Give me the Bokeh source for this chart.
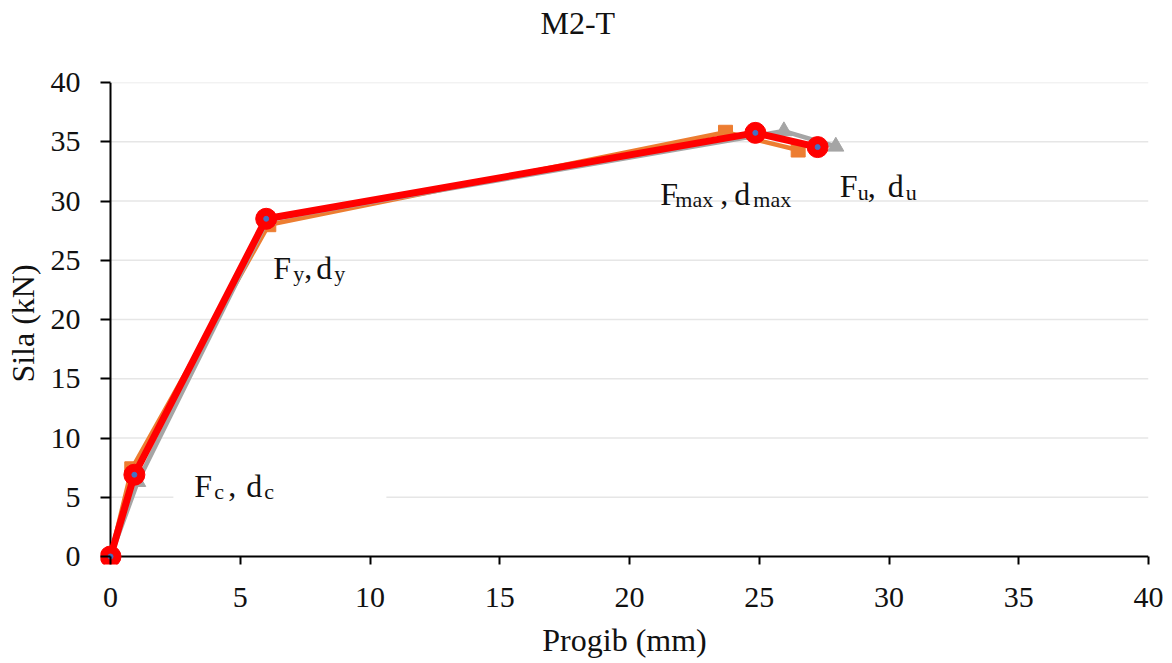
from bokeh.plotting import figure
from bokeh.models import Range1d, FixedTicker, ColumnDataSource, Title
from bokeh.core.properties import value
from bokeh.embed import file_html
from bokeh.resources import INLINE

# ---------------- data ----------------
title_text = "M2-T"
x_label = "Progib (mm)"
y_label = "Sila (kN)"

ticks = [0, 5, 10, 15, 20, 25, 30, 35, 40]

# series 1 (orange squares)
s1_x = [0, 0.82, 6.1, 23.7, 26.5]
s1_y = [0, 7.4, 28.0, 35.8, 34.3]
# series 2 (gray triangles)
s2_x = [0, 1.05, 6.05, 25.95, 27.95]
s2_y = [0, 6.3, 28.4, 35.9, 34.6]
# series 3 (red, with blue centre dots)
s3_x = [0, 0.92, 6.0, 24.85, 27.25]
s3_y = [0, 6.9, 28.5, 35.75, 34.55]

# point labels: index into red series, pieces (text, is_subscript)
label_points = [1, 2, 3, 4]
label_pieces = [
    [("F", 0), ("c", 1), (",", 0), ("d", 0), ("c", 1)],
    [("F", 0), ("y", 1), (",", 0), ("d", 0), ("y", 1)],
    [("F", 0), ("max", 1), (",", 0), ("d", 0), ("max", 1)],
    [("F", 0), ("u", 1), (",", 0), ("d", 0), ("u", 1)],
]
# pixel offsets of each piece from its point
label_dx = [
    [60, 80, 94, 112, 130],
    [7, 27, 38, 50, 68],
    [-95, -80, -35, -21, -2],
    [22, 40, 50, 70, 88],
]
label_dy = [11, 49, 61, 39]
SUB_SHIFT = 6

FONT = "Liberation Serif"
TXT = "#111111"

W, H = 1170, 661
# frame: data 0..40 spans x 110..1148 and y 556..82; a small pad below / left of 0
PAD_L, PAD_B = 10, 8
ML, MR, MT, MB = 110 - PAD_L, 22, 82, H - 556 - PAD_B
px_x = (W - 110 - MR) / 40.0
px_y = (556 - MT) / 40.0

p = figure(width=W, height=H, output_backend="svg", toolbar_location=None,
           x_range=Range1d(-PAD_L / px_x, 40), y_range=Range1d(-PAD_B / px_y, 40),
           min_border_left=ML, min_border_right=MR, min_border_top=MT,
           min_border_bottom=MB)
p.outline_line_color = None
p.background_fill_color = "white"
p.border_fill_color = "white"

# title (outermost) with an empty spacer between it and the plot area
p.title.text = title_text
p.title.align = "left"
p.title.offset = 440
p.title.standoff = 0
p.title.text_font = FONT
p.title.text_font_size = "32px"
p.title.text_font_style = "normal"
p.title.text_color = TXT
spacer = Title(text=" ", text_font=FONT, text_font_size="30px", standoff=7)
p.add_layout(spacer, "above")

# axes (ticks reach from the frame edge to the zero lines)
p.xgrid.visible = False
p.ygrid.visible = False
for ax in (p.xaxis[0], p.yaxis[0]):
    ax.ticker = FixedTicker(ticks=ticks)
    ax.minor_tick_line_color = None
    ax.major_tick_out = 0
    ax.axis_line_color = None
    ax.major_tick_line_color = "black"
    ax.major_tick_line_width = 2
    ax.major_label_text_font = FONT
    ax.major_label_text_font_size = "30px"
    ax.major_label_text_color = TXT
    ax.axis_label_text_font = FONT
    ax.axis_label_text_font_size = "32px"
    ax.axis_label_text_font_style = "normal"
    ax.axis_label_text_color = TXT

p.xaxis.axis_label = x_label
p.yaxis.axis_label = y_label
p.xaxis.major_tick_in = PAD_B
p.yaxis.major_tick_in = PAD_L
p.xaxis.major_label_standoff = 23
p.yaxis.major_label_standoff = 20
p.xaxis.axis_label_standoff = 12
p.yaxis.axis_label_standoff = 7

# horizontal gridlines (from the y axis to the right end)
n = len(ticks) - 1
p.segment(x0=[ticks[0]] * n, x1=[ticks[-1]] * n, y0=ticks[1:], y1=ticks[1:],
          line_color="#E6E6E6", line_width=1.5)

# white label box behind the F_c label (hides the gridline there)
i0 = label_points[0]
p.rect(x=[s3_x[i0] + 145.5 / px_x], y=[s3_y[i0] - 13 / px_y],
       width=213, height=34, width_units="screen", height_units="screen",
       fill_color="white", line_color=None)

# axis lines at zero
p.segment(x0=[0, 0], y0=[0, 0], x1=[ticks[-1], 0], y1=[0, ticks[-1]],
          line_color="black", line_width=2)

# series
p.line(s1_x, s1_y, line_color="#ED7D31", line_width=4.5)
p.scatter(s1_x, s1_y, marker="square", size=14, fill_color="#ED7D31", line_color="#ED7D31")
p.line(s2_x, s2_y, line_color="#A5A5A5", line_width=4.5)
p.scatter(s2_x, s2_y, marker="triangle", size=16, fill_color="#A5A5A5", line_color="#A5A5A5")
p.line(s3_x, s3_y, line_color="#FF0000", line_width=7)
p.scatter(s3_x, s3_y, marker="circle", size=21, fill_color="#FF0000", line_color="#FF0000")
p.scatter(s3_x, s3_y, marker="circle", size=5, fill_color="#4472C4", line_color="#4472C4")

# label pieces
lx, ly, lt, lxo, lyo, lsz = [], [], [], [], [], []
for k, idx in enumerate(label_points):
    for j, (t, sub) in enumerate(label_pieces[k]):
        lx.append(s3_x[idx])
        ly.append(s3_y[idx])
        lt.append(t)
        lxo.append(label_dx[k][j])
        lyo.append(label_dy[k] + (SUB_SHIFT if sub else 0))
        lsz.append("22px" if sub else "32px")
src = ColumnDataSource(dict(x=lx, y=ly, text=lt, xo=lxo, yo=lyo, sz=lsz))
p.text(x="x", y="y", text="text", x_offset="xo", y_offset="yo",
       text_font_size="sz", text_font=value(FONT), text_color=TXT,
       text_align="left", text_baseline="alphabetic", source=src)

open("out.html", "w").write(file_html(p, INLINE))
